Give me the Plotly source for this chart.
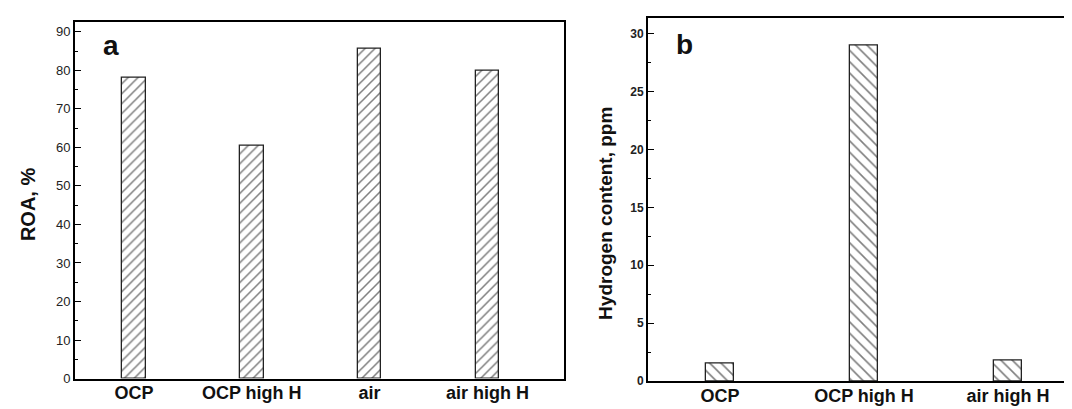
import plotly.graph_objects as go

# Panel a data
cats_a = ["OCP", "OCP high H", "air", "air high H"]
roa = [78.2, 60.3, 85.5, 79.9]

# Panel b data
cats_b = ["OCP", "OCP high H", "air high H"]
hydrogen = [1.52, 28.96, 1.78]

W, H = 1072, 409

def px_x(p):
    return p / W

def px_y(p):
    return 1 - p / H

fig = go.Figure()

fig.add_trace(go.Bar(
    x=cats_a, y=roa, width=0.2, xaxis="x", yaxis="y",
    marker=dict(color="white", line=dict(color="#222", width=1.3),
                pattern=dict(shape="/", fgcolor="black", bgcolor="white", size=7, solidity=0.22)),
    showlegend=False,
))
fig.add_trace(go.Bar(
    x=cats_b, y=hydrogen, width=0.2, xaxis="x2", yaxis="y2",
    marker=dict(color="white", line=dict(color="#222", width=1.3),
                pattern=dict(shape="\\", fgcolor="black", bgcolor="white", size=8, solidity=0.2)),
    showlegend=False,
))

axis_common = dict(showgrid=False, zeroline=False, linecolor="black", linewidth=2)

fig.update_layout(
    width=W, height=H,
    margin=dict(l=0, r=0, t=0, b=0),
    paper_bgcolor="white", plot_bgcolor="white",
    font=dict(family="Arial, Liberation Sans", color="#111"),
    bargap=0,
    xaxis=dict(domain=[px_x(67), px_x(556)], anchor="y", range=[-0.5, 3.65],
               showline=True, mirror=True, ticks="", ticklabelstandoff=-3,
               tickfont=dict(size=18, weight="bold"),
               **axis_common),
    yaxis=dict(domain=[px_y(378), px_y(14)], anchor="x", range=[0, 92.6],
               showline=True, mirror=True, ticks="inside", ticklen=6, tickwidth=1.3,
               tickcolor="black", tick0=0, dtick=10,
               minor=dict(ticks="inside", ticklen=3, dtick=5, tickwidth=1.2, tickcolor="black"),
               tickfont=dict(size=13, color="#222"),
               **axis_common),
    xaxis2=dict(domain=[px_x(640), 1.0], anchor="y2", range=[-0.5, 2.5],
                showline=True, mirror=True, ticks="", ticklabelstandoff=-3,
                tickfont=dict(size=18, weight="bold"),
                **axis_common),
    yaxis2=dict(domain=[px_y(380.5), px_y(10.7)], anchor="x2", range=[0, 31.3],
                showline=True, mirror=False, ticks="inside", ticklen=6, tickwidth=1.3,
                tickcolor="black", tick0=0, dtick=5,
                minor=dict(ticks="inside", ticklen=3, dtick=2.5, tickwidth=1.2, tickcolor="black"),
                tickfont=dict(size=12, weight="bold", color="#222"),
                **axis_common),
    annotations=[
        dict(text="ROA, %", x=px_x(20), y=px_y(200), xref="paper", yref="paper",
             textangle=-90, showarrow=False, font=dict(size=20, weight="bold"),
             xanchor="center", yanchor="middle"),
        dict(text="Hydrogen content, ppm", x=px_x(598), y=px_y(210), xref="paper", yref="paper",
             textangle=-90, showarrow=False, font=dict(size=19, weight="bold"),
             xanchor="center", yanchor="middle"),
        dict(text="a", x=px_x(103), y=px_y(38), xref="paper", yref="paper",
             showarrow=False, font=dict(size=28, weight="bold"),
             xanchor="center", yanchor="middle"),
        dict(text="b", x=px_x(676), y=px_y(37), xref="paper", yref="paper",
             showarrow=False, font=dict(size=28, weight="bold"),
             xanchor="center", yanchor="middle"),
    ],
)

fig.write_html("out.html")
